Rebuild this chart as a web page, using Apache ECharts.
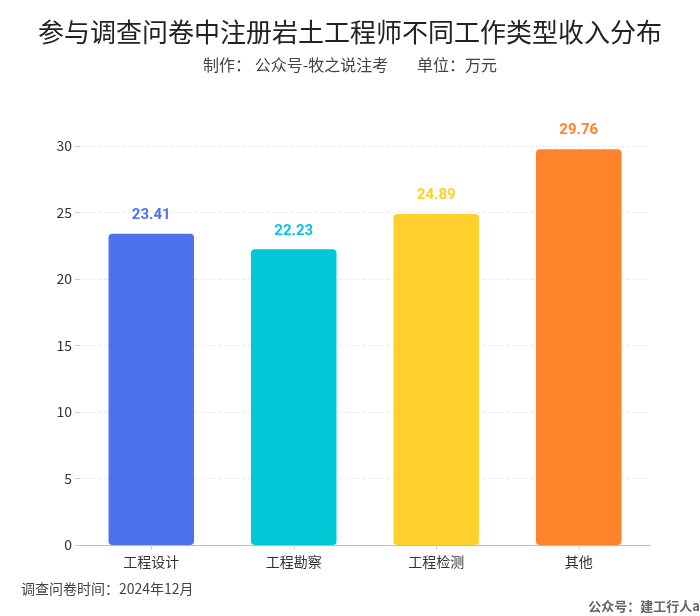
<!DOCTYPE html>
<html>
<head>
<meta charset="utf-8">
<style>
html, body { margin: 0; padding: 0; background: #fff; }
#main { width: 700px; height: 616px; }
</style>
<script src="https://cdn.jsdelivr.net/npm/echarts@6/dist/echarts.min.js"></script>
</head>
<body>
<div id="main"></div>
<script>
var categories = ['工程设计', '工程勘察', '工程检测', '其他'];
var incomes = [23.41, 22.23, 24.89, 29.76];
var barColors = ['#4e72ee', '#00c8d6', '#ffcf2b', '#ff832b'];
var titleText = '参与调查问卷中注册岩土工程师不同工作类型收入分布';
var subtitleText = '制作\uFF1A 公众号-牧之说注考        单位\uFF1A万元';
var surveyNote = '调查问卷时间\uFF1A2024年12月';
var sourceNote = '公众号\uFF1A建工行人a';

var cjk = '"Noto Sans CJK SC", sans-serif';
var myChart = echarts.init(document.getElementById('main'));

var barData = [];
for (var i = 0; i < incomes.length; i++) {
    barData.push({
        value: incomes[i],
        itemStyle: { color: barColors[i] },
        label: { color: barColors[i] }
    });
}

var option = {
    backgroundColor: '#fff',
    animation: false,
    title: {
        text: titleText,
        subtext: subtitleText,
        left: 'center',
        top: 14,
        itemGap: 12,
        textStyle: { color: '#222', fontSize: 26, fontWeight: 'normal', fontFamily: cjk },
        subtextStyle: { color: '#444', fontSize: 16, fontFamily: cjk }
    },
    grid: { left: 80, right: 50, top: 146, bottom: 71 },
    xAxis: {
        type: 'category',
        data: categories,
        axisLine: { lineStyle: { color: '#bbb', width: 1 } },
        axisTick: { show: true, alignWithLabel: true, length: 4, lineStyle: { color: '#ccc' } },
        axisLabel: { color: '#333', fontSize: 14, margin: 10, fontFamily: cjk }
    },
    yAxis: {
        type: 'value',
        min: 0,
        max: 30,
        interval: 5,
        axisLine: { show: false },
        axisTick: { show: true, length: 5, lineStyle: { color: '#ccc' } },
        axisLabel: { color: '#333', fontSize: 14, margin: 8, fontFamily: cjk },
        splitLine: { lineStyle: { color: '#eee', type: 'dashed' } }
    },
    series: [{
        type: 'bar',
        data: barData,
        barWidth: '60%',
        itemStyle: { borderRadius: 4 },
        label: {
            show: true,
            position: 'top',
            distance: 11,
            fontSize: 15,
            fontWeight: 'bold',
            fontFamily: 'Roboto, sans-serif'
        }
    }],
    graphic: [
        {
            type: 'text',
            left: 21,
            top: 582,
            style: { text: surveyNote, fill: '#444', font: '14px ' + cjk }
        },
        {
            type: 'text',
            right: 0,
            top: 600,
            style: { text: sourceNote, fill: '#666', font: 'bold 13px ' + cjk }
        }
    ]
};
myChart.setOption(option);
</script>
</body>
</html>
